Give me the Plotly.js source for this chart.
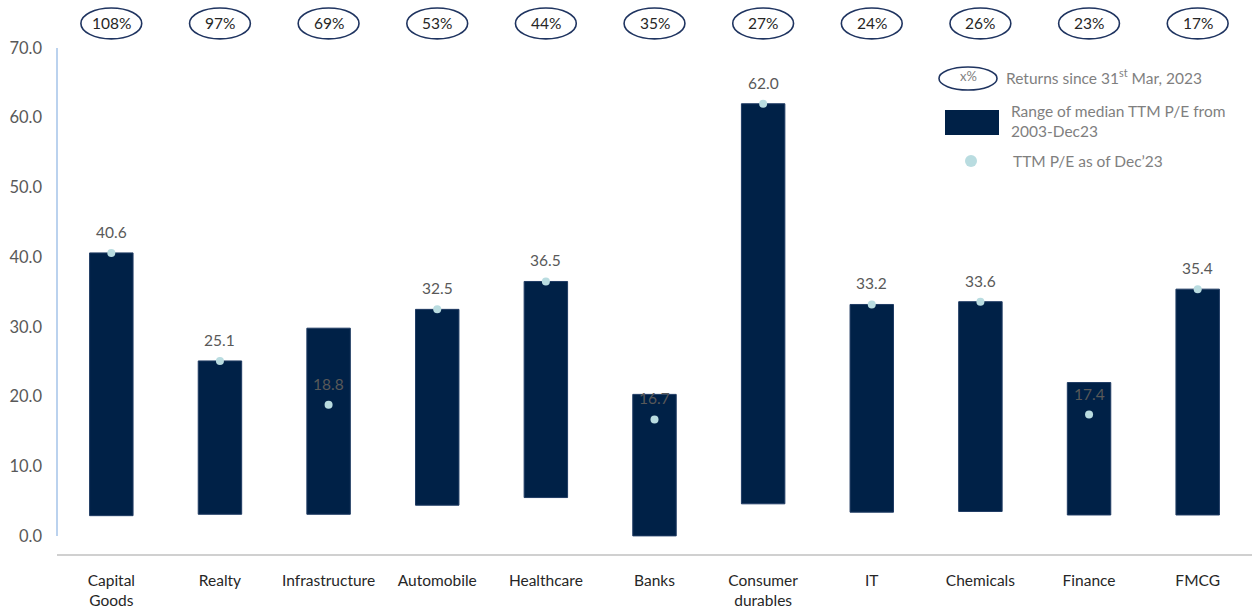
<!DOCTYPE html>
<html>
<head>
<meta charset="utf-8">
<script src="https://cdn.plot.ly/plotly-3.0.1.min.js"></script>
<style>
  html, body { margin: 0; padding: 0; background: #ffffff; }
  #chart { width: 1252px; height: 608px; }
</style>
</head>
<body>
<div id="chart"></div>
<script>
// ---- data ----
const categories = ["Capital<br>Goods", "Realty", "Infrastructure", "Automobile", "Healthcare", "Banks",
                    "Consumer<br>durables", "IT", "Chemicals", "Finance", "FMCG"];
const rangeLow  = [2.9, 3.1, 3.1, 4.4, 5.5, 0.0, 4.6, 3.4, 3.5, 3.0, 3.0];
const rangeHigh = [40.6, 25.1, 29.8, 32.5, 36.5, 20.3, 62.0, 33.2, 33.6, 22.0, 35.4];
const currentPE = [40.6, 25.1, 18.8, 32.5, 36.5, 16.7, 62.0, 33.2, 33.6, 17.4, 35.4];
const returnsPct = ["108%", "97%", "69%", "53%", "44%", "35%", "27%", "24%", "26%", "23%", "17%"];
const yTickVals = [0, 10, 20, 30, 40, 50, 60, 70];

const NAVY = "#002147";
const DOT = "#b9dce0";
const GRAY = "#595959";
const LEGEND_GRAY = "#7f7f7f";
const FONT = "Lato, 'Open Sans', Arial, sans-serif";

const xIdx = categories.map((_, i) => i);

const barTrace = {
  type: "bar",
  x: xIdx,
  y: rangeHigh.map((h, i) => h - rangeLow[i]),
  base: rangeLow,
  width: 0.4,
  marker: { color: NAVY, line: { color: "#1f3b63", width: 1 } },
  hoverinfo: "skip",
  showlegend: false
};

const dotTrace = {
  type: "scatter",
  mode: "markers",
  x: xIdx,
  y: currentPE,
  marker: { color: DOT, size: 8 },
  cliponaxis: false,
  hoverinfo: "skip",
  showlegend: false
};

const shapes = [];
const annotations = [];

// value labels above the dots
currentPE.forEach((v, i) => {
  annotations.push({
    xref: "x", yref: "y", x: i, y: v, yshift: 21, text: v.toFixed(1), showarrow: false,
    xanchor: "center", yanchor: "middle",
    font: { family: FONT, size: 15.5, color: GRAY }
  });
});

// top return ellipses
returnsPct.forEach((r, i) => {
  shapes.push({
    type: "circle", xref: "x", yref: "paper",
    x0: i - 0.28, x1: i + 0.28, y0: 1.018, y1: 1.079,
    line: { color: "#1f3460", width: 1.6 }, fillcolor: "rgba(0,0,0,0)"
  });
  annotations.push({
    xref: "x", yref: "paper", x: i, y: 1.0485, text: r, showarrow: false,
    xanchor: "center", yanchor: "middle",
    font: { family: FONT, size: 15.5, color: "#262626" }
  });
});

// left vertical axis line from 0 to 70
shapes.push({
  type: "line", xref: "paper", yref: "y", x0: 0, x1: 0, y0: 0, y1: 70,
  line: { color: "#8eb4e3", width: 1.2 }
});

// legend: ellipse + text
shapes.push({
  type: "circle", xref: "paper", yref: "paper",
  x0: (939 - 57) / 1195, x1: (997 - 57) / 1195,
  y0: (554 - 90) / 506, y1: (554 - 67) / 506,
  line: { color: "#1f3460", width: 1.6 }, fillcolor: "rgba(0,0,0,0)"
});
annotations.push({
  xref: "paper", yref: "paper", x: (968 - 57) / 1195, y: (554 - 76) / 506,
  text: "x%", showarrow: false, xanchor: "center", yanchor: "middle",
  font: { family: FONT, size: 13, color: LEGEND_GRAY }
});
annotations.push({
  xref: "paper", yref: "paper", x: (1004 - 57) / 1195, y: (554 - 76) / 506,
  text: "Returns since 31<sup>st</sup> Mar, 2023", showarrow: false, xanchor: "left", yanchor: "middle",
  font: { family: FONT, size: 15.5, color: LEGEND_GRAY }
});
// legend: navy rect
shapes.push({
  type: "rect", xref: "paper", yref: "paper",
  x0: (945 - 57) / 1195, x1: (999 - 57) / 1195,
  y0: (554 - 135) / 506, y1: (554 - 110) / 506,
  line: { width: 0 }, fillcolor: NAVY
});
annotations.push({
  xref: "paper", yref: "paper", x: (1009 - 57) / 1195, y: (554 - 121) / 506,
  text: "Range of median TTM P/E from<br>2003-Dec23", showarrow: false, xanchor: "left", yanchor: "middle", align: "left",
  font: { family: FONT, size: 15.5, color: LEGEND_GRAY }
});
// legend: dot
shapes.push({
  type: "circle", xref: "paper", yref: "paper",
  x0: (965 - 57) / 1195, x1: (977 - 57) / 1195,
  y0: (554 - 167) / 506, y1: (554 - 155) / 506,
  line: { width: 0 }, fillcolor: DOT
});
annotations.push({
  xref: "paper", yref: "paper", x: (1011 - 57) / 1195, y: (554 - 161) / 506,
  text: "TTM P/E as of Dec’23", showarrow: false, xanchor: "left", yanchor: "middle",
  font: { family: FONT, size: 15.5, color: LEGEND_GRAY }
});

const layout = {
  width: 1252, height: 608,
  margin: { l: 57, r: 0, t: 48, b: 54, pad: 0 },
  paper_bgcolor: "#ffffff", plot_bgcolor: "#ffffff",
  showlegend: false,
  font: { family: FONT },
  xaxis: {
    range: [-0.5, 10.5],
    tickmode: "array", tickvals: xIdx, ticktext: categories,
    showgrid: false, zeroline: false,
    showline: true, linecolor: "#d0d0d0", linewidth: 1.5,
    ticks: "", ticklabelstandoff: 12,
    tickfont: { family: FONT, size: 15.5, color: "#262626" },
    automargin: false, fixedrange: true
  },
  yaxis: {
    range: [-2.6, 70],
    tickmode: "array", tickvals: yTickVals, ticktext: yTickVals.map(v => v.toFixed(1)),
    showgrid: false, zeroline: false, showline: false,
    ticks: "", ticklabelstandoff: 14,
    tickfont: { family: FONT, size: 16.5, color: GRAY },
    automargin: false, fixedrange: true
  },
  shapes: shapes,
  annotations: annotations
};

Plotly.newPlot("chart", [barTrace, dotTrace], layout, { displayModeBar: false, staticPlot: true });
</script>
</body>
</html>
